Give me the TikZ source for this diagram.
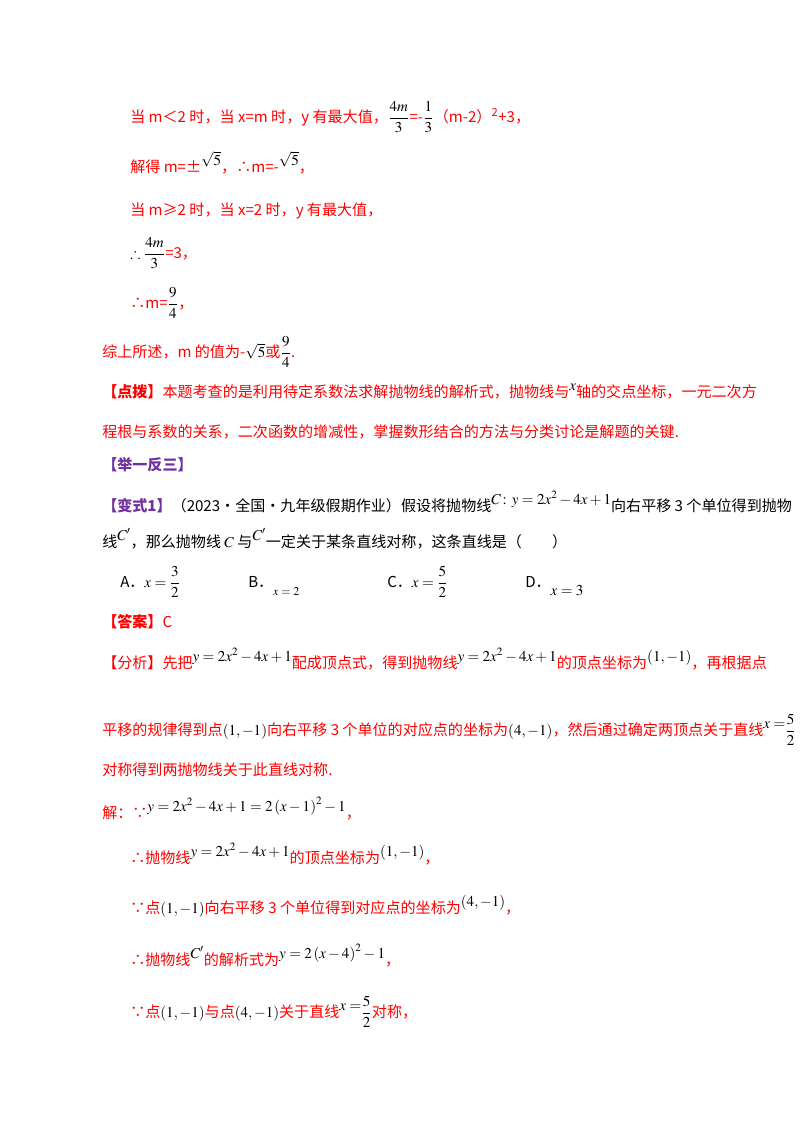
\documentclass[tikz,border=0pt]{standalone}
\usepackage{amsmath,amssymb}
\usepackage{mathptmx}
\usepackage{fontspec}
\setmainfont{Noto Sans CJK SC}
\definecolor{rd}{RGB}{255,0,0}
\definecolor{pu}{RGB}{112,48,160}
\newcommand\up[1]{\raisebox{5pt}{#1}}
\newcommand\K[1]{{\color{black}#1}}
\begin{document}
\begin{tikzpicture}[x=0.75pt,y=-0.75pt,every node/.style={anchor=base west,inner sep=0pt,font=\fontsize{11.3}{13}\selectfont}]
\useasboundingbox (0,0) rectangle (800,1132);
\fill[white] (0,0) rectangle (800,1132);
\begin{scope}[every node/.append style={text=rd}]
\node (l1) at (130,122) {当 m＜2 时，当 x=m 时，y 有最大值，\K{$\dfrac{4m}{3}$}=-\K{$\dfrac{1}{3}$}（m-2）\textsuperscript{2}+3，};
\node (l2) at (130,172) {解得 m=±\up{\K{$\sqrt5$}}，∴m=-\up{\K{$\sqrt5$}}，};
\node (l3) at (130,215) {当 m≥2 时，当 x=2 时，y 有最大值，};
\node (l4) at (130,258) {\K{$\therefore\dfrac{4m}{3}$}=3，};
\node (l5) at (130,308) {∴m=\K{$\dfrac{9}{4}$}，};
\node (l6) at (102,357) {综上所述，m 的值为-\K{$\sqrt5$}或\K{$\dfrac{9}{4}$}.};
\node (l7) at (102,397) {\textbf{【点拨】}本题考查的是利用待定系数法求解抛物线的解析式，抛物线与\up{\K{$x$}}轴的交点坐标，一元二次方};
\node (l8) at (102,437) {程根与系数的关系，二次函数的增减性，掌握数形结合的方法与分类讨论是解题的关键.};
\node (l13) at (102,627) {\textbf{【答案】}C};
\node (l14) at (102,668) {【分析】先把\up{\K{$y=2x^2-4x+1$}}配成顶点式，得到抛物线\up{\K{$y=2x^2-4x+1$}}的顶点坐标为\up{\K{$\left(1,-1\right)$}}，再根据点};
\node (l15) at (102,735) {平移的规律得到点\K{$\left(1,-1\right)$}向右平移 3 个单位的对应点的坐标为\K{$(4,-1)$}，然后通过确定两顶点关于直线\up{\K{$x=$}}\K{$\dfrac52$}};
\node (l16) at (102,775) {对称得到两抛物线关于此直线对称.};
\node (l17) at (102,818) {解：∵\up{\K{$y=2x^2-4x+1=2\left(x-1\right)^2-1$}}，};
\node (l18) at (130,863) {∴抛物线\up{\K{$y=2x^2-4x+1$}}的顶点坐标为\up{\K{$\left(1,-1\right)$}}，};
\node (l19) at (130,913) {∵点\K{$\left(1,-1\right)$}向右平移 3 个单位得到对应点的坐标为\up{\K{$(4,-1)$}}，};
\node (l20) at (130,965) {∴抛物线\up{\K{$C'$}}的解析式为\up{\K{$y=2\left(x-4\right)^2-1$}}，};
\node (l21) at (130,1017) {∵点\K{$\left(1,-1\right)$}与点\K{$(4,-1)$}关于直线\up{\K{$x=$}}\K{$\dfrac52$}对称，};
\end{scope}
\node[text=pu] (l9) at (102,470) {\textbf{【举一反三】}};
\node (l10) at (102,511) {{\color{pu}\textbf{【变式1】}}（2023·全国·九年级假期作业）假设将抛物线\up{$C\colon y=2x^2-4x+1$}向右平移 3 个单位得到抛物};
\node (l11) at (102,547) {线\up{$C'$}，那么抛物线 $C$ 与\up{$C'$}一定关于某条直线对称，这条直线是（\qquad）};
\node (a) at (120,587) {A．$x=\dfrac32$};
\node (b) at (248,587) {B．\raisebox{-6pt}{\small$x=2$}};
\node (c) at (387,587) {C．$x=\dfrac52$};
\node (d) at (525,587) {D．\raisebox{-6pt}{$x=3$}};
\end{tikzpicture}
\end{document}
